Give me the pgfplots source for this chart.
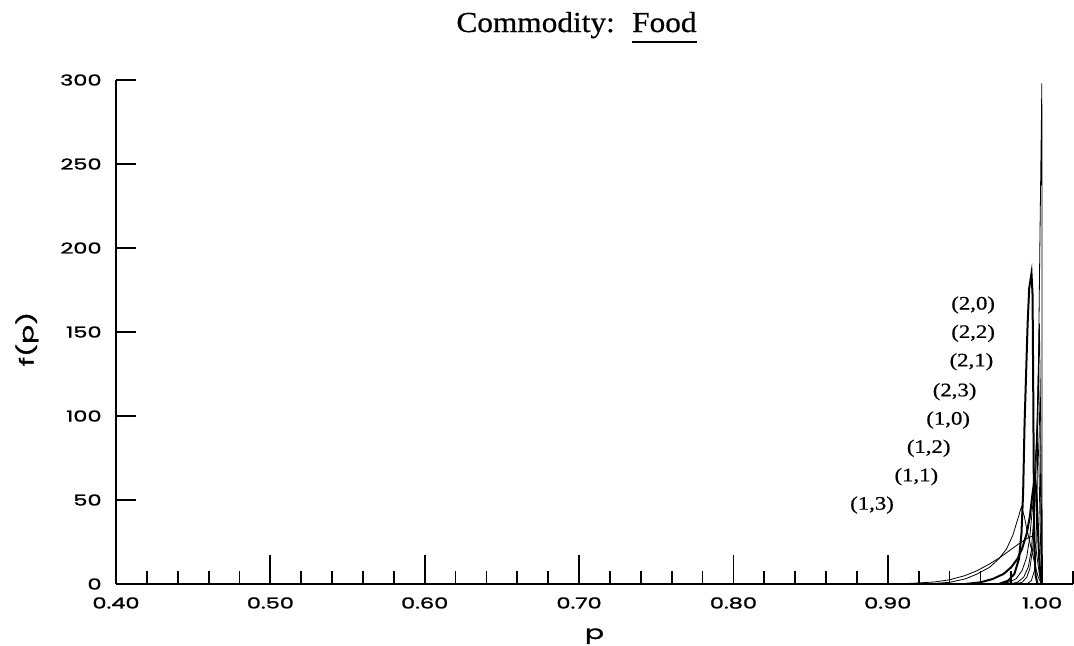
\documentclass[border=0pt]{standalone}
\usepackage{fontspec}
\usepackage{pgfplots}
\pgfplotsset{compat=1.18}
\newfontfamily\plotfont[FakeStretch=1.5,FakeBold=1.6]{Poppins}
\newfontfamily\curvefont[FakeStretch=1.2,FakeBold=0.6]{Liberation Serif}
\newfontfamily\titlefont[FakeStretch=1.08,FakeBold=0.6]{Liberation Serif}

\begin{document}
\begin{tikzpicture}
\begin{axis}[
  at={(0,0)}, anchor=south west,
  scale only axis, width=478.5pt, height=252pt,
  xmin=0.40, xmax=1.02, ymin=0, ymax=300,
  axis x line*=bottom, axis y line*=left,
  axis line style={line width=1.3pt},
  xtick={0.4,0.5,0.6,0.7,0.8,0.9,1.0},
  xticklabels={0.40,0.50,0.60,0.70,0.80,0.90,1.00},
  minor xtick={0.42,0.44,0.46,0.48,0.52,0.54,0.56,0.58,0.62,0.64,0.66,0.68,0.72,0.74,0.76,0.78,0.82,0.84,0.86,0.88,0.92,0.94,0.96,0.98,1.02},
  ytick={0,50,100,150,200,250,300},
  yticklabels={0,50,100,150,200,250,300},
  tick align=inside,
  xtick style={line width=0.9pt, black, /pgfplots/major tick length=14.5pt, /pgfplots/minor tick length=6.5pt},
  ytick style={line width=0.9pt, black, /pgfplots/major tick length=10pt},
  ticklabel style={font=\plotfont\fontsize{7.5}{9}\selectfont, inner sep=0pt},
  xticklabel style={anchor=north, yshift=-6.5pt},
  yticklabel style={anchor=east, xshift=-7pt},
  xlabel={p}, ylabel={f(p)},
  label style={font=\plotfont\fontsize{9.5}{11}\selectfont, inner sep=0pt},
  xlabel style={at={([yshift=-22pt]axis description cs:0.5,0)}, anchor=north},
  ylabel style={at={([xshift=-44.5pt]axis description cs:0,0.486)}, anchor=center},
  clip=false,
  cycle list={{black, solid, line width=1pt, mark=none}},
]
% (1,3)
\addplot coordinates {(0.900,0)(0.915,0.4)(0.930,1.2)(0.940,2.5)(0.950,5)(0.958,8)(0.966,12)(0.973,16)(0.979,20)(0.985,24)(0.990,27)(0.9935,28.5)(0.9955,24)(0.997,14)(0.998,7)(0.999,2)(1.000,0)};
% (1,1)
\addplot coordinates {(0.925,0)(0.940,1)(0.950,3)(0.958,6)(0.966,10)(0.972,15)(0.977,21)(0.981,29)(0.984,38)(0.9866,46)(0.9885,40)(0.990,33)(0.992,25)(0.994,17)(0.996,9)(0.9975,4)(0.999,1)(1.000,0)};
% (1,2)
\addplot coordinates {(0.950,0)(0.960,1)(0.968,3)(0.975,6)(0.980,10)(0.984,15)(0.987,21)(0.990,30)(0.992,40)(0.9938,54)(0.9953,64)(0.9963,55)(0.9972,35)(0.998,16)(0.999,4)(1.000,0)};
% (1,0)
\addplot coordinates {(0.970,0)(0.978,1)(0.983,3)(0.987,8)(0.990,16)(0.992,28)(0.994,48)(0.9955,72)(0.9968,95)(0.9978,75)(0.9987,35)(0.9994,10)(1.000,0)};
% (2,3)
\addplot coordinates {(0.978,0)(0.984,1)(0.988,4)(0.991,10)(0.993,20)(0.995,45)(0.9963,80)(0.9976,125)(0.9985,90)(0.9992,40)(0.9997,10)(1.000,0)};
% (2,1)
\addplot coordinates {(0.982,0)(0.987,1)(0.990,4)(0.992,9)(0.994,22)(0.9955,50)(0.9968,100)(0.9982,155)(0.9990,100)(0.9996,35)(1.000,0)};
% (2,2)
\addplot coordinates {(0.972,0)(0.978,2)(0.982,6)(0.985,15)(0.9866,30)(0.9877,55)(0.9886,95)(0.9896,125)(0.9906,155)(0.9916,176)(0.9931,185)(0.9938,172)(0.9942,120)(0.9946,60)(0.9950,20)(0.9958,5)(0.997,0)};
% (2,0)
\addplot coordinates {(0.990,0)(0.993,2)(0.995,8)(0.9960,20)(0.9968,60)(0.9975,120)(0.9985,200)(0.9993,260)(0.9998,298)(1.000,0)};

\begin{scope}[every node/.style={font=\curvefont\fontsize{9.5}{11}\selectfont, inner sep=0pt}]
\node at (axis cs:0.9553,166.1) {(2,0)};
\node at (axis cs:0.9553,149.2) {(2,2)};
\node at (axis cs:0.9542,132.3) {(2,1)};
\node at (axis cs:0.9433,114.5) {(2,3)};
\node at (axis cs:0.9391,97.6) {(1,0)};
\node at (axis cs:0.9265,80.8) {(1,2)};
\node at (axis cs:0.9185,63.9) {(1,1)};
\node at (axis cs:0.8898,47.0) {(1,3)};
\end{scope}
\end{axis}

\node[anchor=base, inner sep=0pt, font=\titlefont\fontsize{14.5}{16}\selectfont] at (230.25pt,276pt)
  {Commodity:\hspace{0.6em}\setbox0\hbox{Food}\rlap{\rule[-5.5pt]{\wd0}{0.9pt}}\box0};

\pgfresetboundingbox
\path (-58pt,-30.5pt) rectangle (479pt,292pt);
\end{tikzpicture}
\end{document}
